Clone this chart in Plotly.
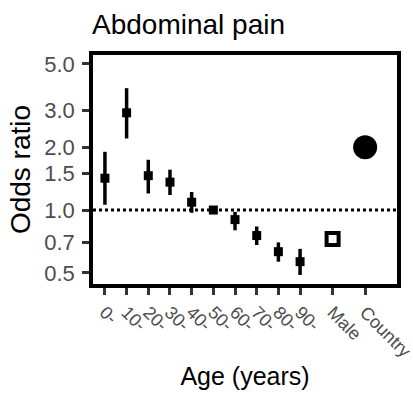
import plotly.graph_objects as go

# odds ratios by age group (reference 50-)
ages = ["0-", "10-", "20-", "30-", "40-", "50-", "60-", "70-", "80-", "90-"]
age_pos = [0, 1, 2, 3, 4, 5, 6, 7, 8, 9]
age_or = [1.42, 2.92, 1.46, 1.36, 1.09, 1.00, 0.90, 0.755, 0.632, 0.566]
age_lo = [1.06, 2.20, 1.20, 1.18, 0.97, 0.99, 0.80, 0.68, 0.566, 0.489]
age_hi = [1.90, 3.83, 1.74, 1.56, 1.22, 1.01, 0.98, 0.834, 0.70, 0.652]

male_pos = [10.5]
male_or = [0.727]

country_pos = [12]
country_or = [2.0]

tick_pos = age_pos + male_pos + country_pos
tick_text = ages + ["Male", "Country"]

y_ticks = [0.5, 0.7, 1.0, 1.5, 2.0, 3.0, 5.0]
y_text = ["0.5", "0.7", "1.0", "1.5", "2.0", "3.0", "5.0"]

x_range = [-0.55, 13.47]

FONT = "Liberation Sans, Arial, sans-serif"

fig = go.Figure()

# reference line at OR = 1
fig.add_trace(go.Scatter(
    x=x_range, y=[1, 1], mode="lines",
    line=dict(color="black", width=3, dash="dot"),
    hoverinfo="skip",
))

fig.add_trace(go.Scatter(
    x=age_pos, y=age_or, mode="markers",
    marker=dict(symbol="square", size=9, color="black"),
    error_y=dict(
        type="data", symmetric=False,
        array=[h - o for h, o in zip(age_hi, age_or)],
        arrayminus=[o - l for o, l in zip(age_or, age_lo)],
        thickness=3.5, width=0, color="black",
    ),
))

fig.add_trace(go.Scatter(
    x=male_pos, y=male_or, mode="markers",
    marker=dict(symbol="square", size=12, color="white",
                line=dict(color="black", width=4)),
))

fig.add_trace(go.Scatter(
    x=country_pos, y=country_or, mode="markers",
    marker=dict(symbol="circle", size=24, color="black"),
))

fig.update_layout(
    width=413, height=405,
    margin=dict(l=93, r=16, t=55, b=121),
    paper_bgcolor="white", plot_bgcolor="white",
    showlegend=False,
    font=dict(family=FONT, color="black"),
    title=dict(text="Abdominal pain", x=92 / 413, xanchor="left",
               y=1 - 24 / 405, yanchor="middle",
               font=dict(size=28, color="black")),
)

fig.update_xaxes(
    range=x_range, tickvals=tick_pos, ticktext=tick_text,
    tickangle=45, tickfont=dict(size=18, color="#4d4d4d"),
    ticklabeloverflow="allow", automargin=False,
    ticks="outside", ticklen=7, tickwidth=3, tickcolor="#333333",
    showline=True, linecolor="black", linewidth=3.5, mirror=True,
    showgrid=False, zeroline=False,
    title=dict(text="Age (years)", font=dict(size=25), standoff=8),
)

fig.update_yaxes(
    type="log", range=[-0.354, 0.742],
    tickvals=y_ticks, ticktext=y_text,
    tickfont=dict(size=22, color="#4d4d4d"),
    ticklabelstandoff=3, automargin=False,
    ticks="outside", ticklen=7, tickwidth=3, tickcolor="#333333",
    showline=True, linecolor="black", linewidth=3.5, mirror=True,
    showgrid=False, zeroline=False,
    title=dict(text="Odds ratio", font=dict(size=28), standoff=6),
)

fig.write_html(
    "out.html",
    config={"displayModeBar": False},
    post_script="document.body.style.margin='0';",
)
